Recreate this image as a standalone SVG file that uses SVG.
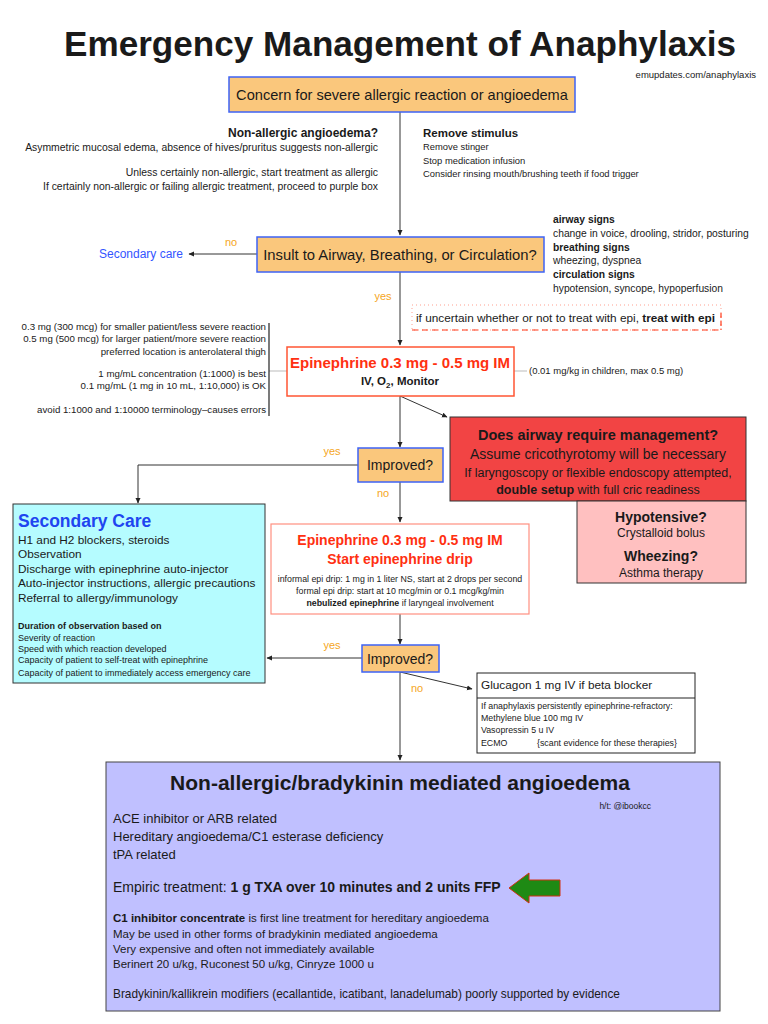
<svg xmlns="http://www.w3.org/2000/svg" width="768" height="1024" viewBox="0 0 768 1024">
<defs>
<marker id="ah" markerWidth="6" markerHeight="6" refX="5" refY="3" orient="auto" markerUnits="userSpaceOnUse">
<path d="M0,0.5 L5.5,3 L0,5.5 Z" fill="#222"/>
</marker>
<style>
text{font-family:"Liberation Sans",Arial,sans-serif;fill:#1a1a1a}
.b{font-weight:bold}
.dec{fill:#FAC77C;stroke:#3E63F5;stroke-width:1.5}
.ln{stroke:#333;stroke-width:1;fill:none}
.gl{stroke:#bbb;stroke-width:1;fill:none}
.or{fill:#F5A623;font-size:11px}
.s10{font-size:10.4px}
.s94{font-size:9.4px}
.sg{font-size:10.3px}
.s9{font-size:9.7px}
.mid{text-anchor:middle}
.end{text-anchor:end}
</style>
</defs>
<rect width="768" height="1024" fill="#fff"/>

<text id="title" x="400" y="56" class="b mid" font-size="35" textLength="672" lengthAdjust="spacingAndGlyphs">Emergency Management of Anaphylaxis</text>
<text x="756" y="78" class="end" font-size="9.5">emupdates.com/anaphylaxis</text>

<g id="connectors">
<line class="ln" x1="400" y1="112" x2="400" y2="235" marker-end="url(#ah)"/>
<line class="ln" x1="257" y1="254" x2="189" y2="254" marker-end="url(#ah)"/>
<line class="ln" x1="400" y1="272" x2="400" y2="345" marker-end="url(#ah)"/>
<line class="ln" x1="400" y1="396" x2="447" y2="417" marker-end="url(#ah)"/>
<line class="ln" x1="400" y1="396" x2="400" y2="447" marker-end="url(#ah)"/>
<polyline class="ln" points="358,465 138,465 138,503" marker-end="url(#ah)"/>
<line class="ln" x1="400" y1="482" x2="400" y2="522" marker-end="url(#ah)"/>
<line class="ln" x1="400" y1="614" x2="400" y2="644" marker-end="url(#ah)"/>
<line class="ln" x1="362" y1="658" x2="267" y2="658" marker-end="url(#ah)"/>
<line class="ln" x1="400" y1="672" x2="472" y2="689" marker-end="url(#ah)"/>
<line class="ln" x1="400" y1="672" x2="400" y2="760" marker-end="url(#ah)"/>
<line class="gl" x1="269" y1="371" x2="287" y2="371"/>
<line class="gl" x1="514" y1="371" x2="527" y2="371"/>
<line stroke="#222" stroke-width="1.2" x1="269" y1="323" x2="269" y2="416"/>
<text x="231" y="246" class="or mid">no</text>
<text x="383" y="300" class="or mid">yes</text>
<text x="332" y="455" class="or mid">yes</text>
<text x="383" y="497" class="or mid">no</text>
<text x="332" y="649" class="or mid">yes</text>
<text x="417" y="692" class="or mid">no</text>
</g>

<g id="n-concern">
<rect class="dec" x="229" y="77" width="346" height="35"/>
<text x="402" y="100" class="mid" font-size="14.6">Concern for severe allergic reaction or angioedema</text>
</g>

<g id="n-nonallergic-note">
<text x="378" y="137" class="b end" font-size="12">Non-allergic angioedema?</text>
<text x="378" y="151" class="end s10">Asymmetric mucosal edema, absence of hives/pruritus suggests non-allergic</text>
<text x="378" y="176" class="end s10">Unless certainly non-allergic, start treatment as allergic</text>
<text x="378" y="190" class="end s10">If certainly non-allergic or failing allergic treatment, proceed to purple box</text>
</g>

<g id="n-remove">
<text x="423" y="137" class="b" font-size="11.5">Remove stimulus</text>
<text x="423" y="150" class="s94">Remove stinger</text>
<text x="423" y="164" class="s94">Stop medication infusion</text>
<text x="423" y="177" class="s94">Consider rinsing mouth/brushing teeth if food trigger</text>
</g>

<g id="n-abc">
<rect class="dec" x="257" y="237" width="287" height="35"/>
<text x="400" y="260" class="mid" font-size="14.8">Insult to Airway, Breathing, or Circulation?</text>
</g>

<g id="n-secondary-link">
<text x="183" y="258" class="end" font-size="12" style="fill:#3355FF">Secondary care</text>
</g>

<g id="n-signs">
<text x="553" y="223" class="b sg">airway signs</text>
<text x="553" y="237" class="sg">change in voice, drooling, stridor, posturing</text>
<text x="553" y="251" class="b sg">breathing signs</text>
<text x="553" y="264" class="sg">wheezing, dyspnea</text>
<text x="553" y="278" class="b sg">circulation signs</text>
<text x="553" y="292" class="sg">hypotension, syncope, hypoperfusion</text>
</g>

<g id="n-uncertain">
<rect x="412" y="305" width="309" height="25" fill="none" stroke="#FF9F8F" stroke-width="1" stroke-dasharray="1,3"/>
<line x1="412" y1="330" x2="721" y2="330" stroke="#FF3A1A" stroke-width="1.2" stroke-dasharray="6,4"/>
<line x1="721" y1="313" x2="721" y2="330" stroke="#FF3A1A" stroke-width="1.2" stroke-dasharray="5,3"/>
<text x="416" y="322" font-size="11.8">if uncertain whether or not to treat with epi, <tspan class="b">treat with epi</tspan></text>
</g>

<g id="n-dose-notes">
<text x="266" y="330" class="end s9">0.3 mg (300 mcg)  for smaller patient/less severe reaction</text>
<text x="266" y="342" class="end s9">0.5 mg (500 mcg) for larger patient/more severe reaction</text>
<text x="266" y="355" class="end s9">preferred location is anterolateral thigh</text>
<text x="266" y="377" class="end s9">1 mg/mL concentration (1:1000) is best</text>
<text x="266" y="389" class="end s9">0.1 mg/mL (1 mg in 10 mL, 1:10,000) is OK</text>
<text x="266" y="413" class="end s9">avoid 1:1000 and 1:10000 terminology–causes errors</text>
</g>

<g id="n-epi1">
<rect x="287" y="347" width="227" height="49" fill="#fff" stroke="#FF5533" stroke-width="1.5"/>
<text x="400" y="368" class="b mid" font-size="15" style="fill:#FF3011">Epinephrine 0.3 mg - 0.5 mg IM</text>
<text x="400" y="385" class="b mid" font-size="11.5">IV, O<tspan font-size="8" dy="3">2</tspan><tspan dy="-3">, Monitor</tspan></text>
</g>

<g id="n-children">
<text x="529" y="374" font-size="9.5">(0.01 mg/kg in children, max 0.5 mg)</text>
</g>

<g id="n-airway">
<rect x="450" y="417" width="296" height="84" fill="#F24444" stroke="#333" stroke-width="1"/>
<text x="598" y="440" class="b mid" font-size="14.5">Does airway require management?</text>
<text x="598" y="459" class="mid" font-size="14">Assume cricothyrotomy will be necessary</text>
<text x="598" y="477" class="mid" font-size="12.5">If laryngoscopy or flexible endoscopy attempted,</text>
<text x="598" y="494" class="mid" font-size="12.5"><tspan class="b">double setup</tspan> with full cric readiness</text>
</g>

<g id="n-hypo">
<rect x="577" y="501" width="169" height="82" fill="#FFC0C0" stroke="#333" stroke-width="1"/>
<text x="661" y="522" class="b mid" font-size="14">Hypotensive?</text>
<text x="661" y="537" class="mid" font-size="12">Crystalloid bolus</text>
<text x="661" y="561" class="b mid" font-size="14">Wheezing?</text>
<text x="661" y="577" class="mid" font-size="12">Asthma therapy</text>
</g>

<g id="n-improved1">
<rect class="dec" x="358" y="448" width="85" height="34"/>
<text x="400" y="470" class="mid" font-size="14">Improved?</text>
</g>

<g id="n-secondary">
<rect x="13" y="504" width="252" height="179" fill="#B5FCFF" stroke="#333" stroke-width="1"/>
<text x="18" y="527" class="b" font-size="17.5" style="fill:#1F45F0">Secondary Care</text>
<text x="18" y="544" font-size="11.8">H1 and H2 blockers, steroids</text>
<text x="18" y="558" font-size="11.8">Observation</text>
<text x="18" y="573" font-size="11.8">Discharge with epinephrine auto-injector</text>
<text x="18" y="587" font-size="11.8">Auto-injector instructions, allergic precautions</text>
<text x="18" y="602" font-size="11.8">Referral to allergy/immunology</text>
<text x="18" y="629" class="b" font-size="9">Duration of observation based on</text>
<text x="18" y="641" font-size="9">Severity of reaction</text>
<text x="18" y="652" font-size="9">Speed with which reaction developed</text>
<text x="18" y="663" font-size="9">Capacity of patient to self-treat with epinephrine</text>
<text x="18" y="676" font-size="9">Capacity of patient to immediately access emergency care</text>
</g>

<g id="n-epi2">
<rect x="271" y="524" width="258" height="90" fill="#fff" stroke="#FF9080" stroke-width="1.2"/>
<text x="400" y="545" class="b mid" font-size="14" style="fill:#FF3011">Epinephrine 0.3 mg - 0.5 mg IM</text>
<text x="400" y="564" class="b mid" font-size="14" style="fill:#FF3011">Start epinephrine drip</text>
<text x="400" y="582" class="mid" font-size="8.8">informal epi drip: 1 mg in 1 liter NS, start at 2 drops per second</text>
<text x="400" y="594" class="mid" font-size="8.8">formal epi drip: start at 10 mcg/min or 0.1 mcg/kg/min</text>
<text x="400" y="606" class="mid" font-size="8.8"><tspan class="b">nebulized epinephrine</tspan> if laryngeal involvement</text>
</g>

<g id="n-improved2">
<rect class="dec" x="362" y="645" width="77" height="27"/>
<text x="400" y="664" class="mid" font-size="14">Improved?</text>
</g>

<g id="n-glucagon">
<rect x="477" y="673" width="218" height="80" fill="#fff" stroke="#222" stroke-width="1"/>
<line x1="477" y1="698" x2="695" y2="698" stroke="#222" stroke-width="1"/>
<text x="481" y="689" font-size="11.8">Glucagon 1 mg IV if beta blocker</text>
<text x="481" y="709" font-size="8.8">If anaphylaxis persistently epinephrine-refractory:</text>
<text x="481" y="721" font-size="8.8">Methylene blue 100 mg IV</text>
<text x="481" y="733" font-size="8.8">Vasopressin 5 u IV</text>
<text x="481" y="746" font-size="8.8">ECMO</text>
<text x="537" y="746" font-size="8.8">{scant evidence for these therapies}</text>
</g>

<g id="n-bradykinin">
<rect x="106" y="762" width="614" height="249" fill="#C0C0FF" stroke="#444" stroke-width="1"/>
<text x="400" y="790" class="b mid" font-size="21">Non-allergic/bradykinin mediated angioedema</text>
<text x="651" y="809" class="end" font-size="8.5">h/t: @ibookcc</text>
<text x="113" y="823" font-size="13">ACE inhibitor or ARB related</text>
<text x="113" y="841" font-size="13">Hereditary angioedema/C1 esterase deficiency</text>
<text x="113" y="859" font-size="13">tPA related</text>
<text x="113" y="892" font-size="14">Empiric treatment: <tspan class="b">1 g TXA over 10 minutes and 2 units FFP</tspan></text>
<path d="M509,888 L529,873 L529,880 L560,880 L560,896 L529,896 L529,903 Z" fill="#1E8A14" stroke="#D03010" stroke-width="1"/>
<text x="113" y="922" font-size="11.5"><tspan class="b">C1 inhibitor concentrate</tspan> is first line treatment for hereditary angioedema</text>
<text x="113" y="938" font-size="11.5">May be used in other forms of bradykinin mediated angioedema</text>
<text x="113" y="953" font-size="11.5">Very expensive and often not immediately available</text>
<text x="113" y="968" font-size="11.5">Berinert 20 u/kg, Ruconest 50 u/kg, Cinryze 1000 u</text>
<text x="113" y="998" font-size="11.85">Bradykinin/kallikrein modifiers (ecallantide, icatibant, lanadelumab) poorly supported by evidence</text>
</g>
</svg>
